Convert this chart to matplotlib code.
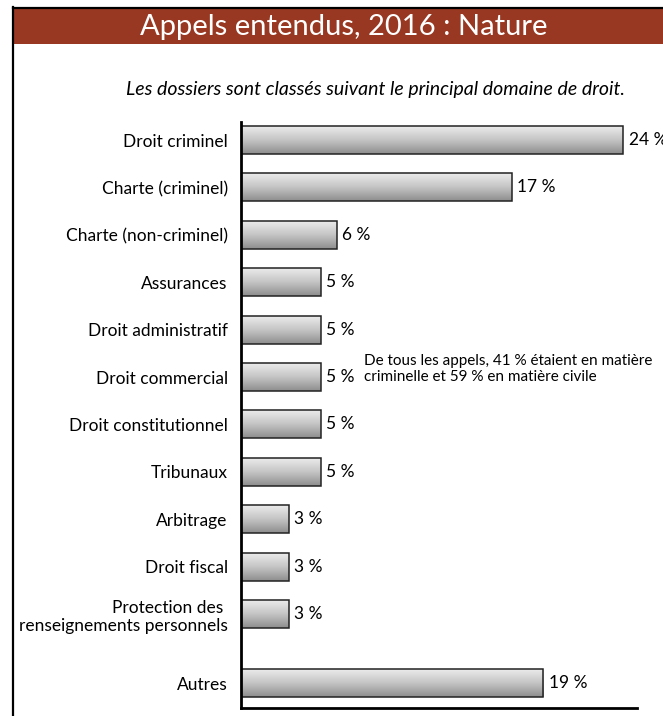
import matplotlib
matplotlib.use("Agg")
import matplotlib.pyplot as plt
import numpy as np
from matplotlib.patches import Rectangle
from matplotlib.lines import Line2D
from matplotlib.colors import LinearSegmentedColormap

categories = ["Droit criminel", "Charte (criminel)", "Charte (non-criminel)", "Assurances",
              "Droit administratif", "Droit commercial", "Droit constitutionnel", "Tribunaux",
              "Arbitrage", "Droit fiscal", "Protection des \nrenseignements personnels", "Autres"]
values = [24, 17, 6, 5, 5, 5, 5, 5, 3, 3, 3, 19]
value_labels = ["24 %", "17 %", "6 %", "5 %", "5 %", "5 %", "5 %", "5 %", "3 %", "3 %", "3 %", "19 %"]
title = "Appels entendus, 2016 : Nature"
subtitle = "Les dossiers sont classés suivant le principal domaine de droit."
note = "De tous les appels, 41 % étaient en matière\ncriminelle et 59 % en matière civile"

plt.rcParams['font.family'] = ['Lato', 'DejaVu Sans']

W, H = 663, 716
fig = plt.figure(figsize=(W/100, H/100), dpi=100)
fig.patch.set_facecolor("white")

# frame and title band
fig.add_artist(Rectangle((14/W, 1-44/H), 1, 35/H, transform=fig.transFigure,
                         facecolor="#993822", edgecolor="none"))
fig.add_artist(Line2D([12.5/W, 1], [1-7.5/H]*2, transform=fig.transFigure, color="black", lw=1.6))
fig.add_artist(Line2D([13.2/W]*2, [0, 1-7/H], transform=fig.transFigure, color="black", lw=1.6))
fig.text(344/W, 1-27/H, title, color="white", fontsize=21, ha="center", va="center")
fig.text(376/W, 1-90/H, subtitle, fontsize=14, style="italic", ha="center", va="center")

ax = fig.add_axes([241/W, 8/H, 396/W, 586/H])
pos = [0, 1, 2, 3, 4, 5, 6, 7, 8, 9, 10, 11.46]
bh = 0.59
xmax = 24 * 396 / 382

grad = np.linspace(0, 1, 64).reshape(-1, 1)
cmap = LinearSegmentedColormap.from_list("g", ["#ebebeb", "#c4c4c4", "#8e8e8e"])
for p, v, lab in zip(pos, values, value_labels):
    ax.imshow(grad, cmap=cmap, aspect="auto", extent=(0, v, p + bh/2, p - bh/2),
              interpolation="bilinear", zorder=2)
    ax.add_patch(Rectangle((0, p - bh/2), v, bh, facecolor="none", edgecolor="#222222",
                           lw=1.1, zorder=3))
    ax.annotate(lab, xy=(v, p), xytext=(4, 0), textcoords="offset points",
                ha="left", va="center", fontsize=12.5, annotation_clip=False)
ax.set_xlim(0, xmax)
ax.set_ylim(11.98, -0.38)

ax.set_yticks(pos)
ax.set_yticklabels(categories, fontsize=12.5, ha="right")
ax.tick_params(axis="y", length=0, pad=9.5)
ax.set_xticks([])
for s in ["top", "right"]:
    ax.spines[s].set_visible(False)
ax.spines["left"].set_linewidth(2)
ax.spines["bottom"].set_linewidth(2)
ax.spines["left"].set_zorder(5)

fig.text(364/W, 1-369/H, note, fontsize=11, ha="left", va="center", linespacing=1.25)

fig.savefig("out.png", dpi=100)
